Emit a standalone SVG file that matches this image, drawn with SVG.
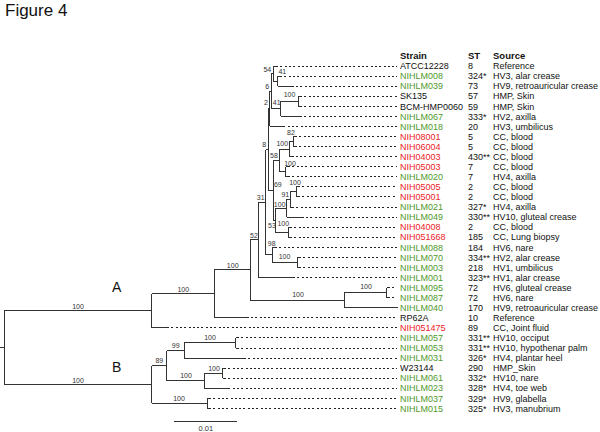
<svg xmlns="http://www.w3.org/2000/svg" width="600" height="432" viewBox="0 0 600 432">
<style>
text{font-family:"Liberation Sans",Arial,sans-serif;fill:#111}
.tx{font-size:9px}
.hd{font-size:9.5px;font-weight:bold}
.bs{font-size:7px;text-anchor:middle;fill:#333}
.cl{font-size:14px;text-anchor:middle}
.g{fill:#4f9a2c}
.r{fill:#ec2227}
.br{fill:none;stroke:#333;stroke-width:1;shape-rendering:crispEdges}
.dt{fill:none;stroke:#222;stroke-width:1;stroke-dasharray:2 2.3;shape-rendering:crispEdges}
</style>
<rect width="600" height="432" fill="#fff"/>
<text x="5" y="15.5" style="font-size:17px">Figure 4</text>
<g id="headers">
<text class="hd" x="400" y="59">Strain</text>
<text class="hd" x="468" y="59">ST</text>
<text class="hd" x="493" y="59">Source</text>
</g>
<g id="connectors">
<path class="br" d="M0,347.7H4.3M4.3,310.85V384.5
M4.3,310.85H151.7M151.7,293.9V327.8
M4.3,384.5H151.7M151.7,365.6V403.35
M151.7,293.9H214M214,269.95V317.8
M214,269.95H250M250,239.85V300.1
M250,239.85H258.3M258.3,202.2V277.5
M258.3,202.2H265.7M265.7,149.55V254.8
M265.7,149.55H268.3M268.3,108.8V190.3
M268.3,108.8H269.8M269.8,91.2V126.4
M269.8,91.2H271.2M271.2,73.55V108.8
M271.2,73.55H273.3M273.3,66V81.1
M273.3,81.1H277.5M277.5,76.1V86.1
M271.2,108.8H280.7M280.7,101.25V116.4
M280.7,101.25H298.3M298.3,96.2V106.3
M268.3,190.3H273.3M273.3,160.4V220.2
M273.3,160.4H279.3M279.3,149.1V171.75
M279.3,149.1H289.3M289.3,141.55V156.6
M289.3,141.55H293.3M293.3,136.5V146.6
M279.3,171.75H285.7M285.7,166.7V176.8
M273.3,220.2H275M275,208.25V232.15
M275,208.25H286.7M286.7,199.4V217.1
M286.7,199.4H290M290,191.85V207
M290,191.85H296M296,186.8V196.9
M275,232.15H288.3M288.3,227.1V237.2
M265.7,254.8H272.3M272.3,247.3V262.35
M272.3,262.35H297.3M297.3,257.3V267.4
M250,300.1H344M344,292.55V307.7
M344,292.55H386.7M386.7,287.5V297.6
M151.7,365.6H166.7M166.7,350.5V380.7
M166.7,350.5H184.3M184.3,342.95V358
M184.3,342.95H235.7M235.7,337.9V348
M166.7,380.7H204M204,373.15V388.2
M204,373.15H222.7M222.7,368.1V378.2
M151.7,403.35H207.3M207.3,398.3V408.4"/>
<path class="br" d="M273.3,66H276M277.5,76.1H280M277.5,86.1H291.7M298.3,96.2H300M298.3,106.3H300M280.7,116.4H300M269.8,126.4H283.3
M293.3,136.5H295M293.3,146.6H295M289.3,156.6H291.5M285.7,166.7H288M285.7,176.8H288M296,186.8H298M296,196.9H298M290,207H292M286.7,217.1H301.7
M288.3,227.1H290M288.3,237.2H290M272.3,247.3H275M297.3,257.3H299M297.3,267.4H299M258.3,277.5H293M386.7,287.5H388M386.7,297.6H388M344,307.7H398
M214,317.8H246.7M151.7,327.8H167M235.7,337.9H237M235.7,348H237M184.3,358H244M222.7,368.1H224M222.7,378.2H224M204,388.2H228.3M207.3,398.3H209M207.3,408.4H209"/>
<path class="dt" d="M276,66H397M280,76.1H397M291.7,86.1H397M300,96.2H397M300,106.3H397M300,116.4H397M283.3,126.4H397
M295,136.5H397M295,146.6H397M291.5,156.6H397M288,166.7H397M288,176.8H397M298,186.8H397M298,196.9H397M292,207H397M301.7,217.1H397
M290,227.1H397M290,237.2H397M275,247.3H397M299,257.3H397M299,267.4H397M293,277.5H397M388,287.5H397M388,297.6H397
M246.7,317.8H397M167,327.8H397M237,337.9H397M237,348H397M244,358H397M224,368.1H397M224,378.2H397M228.3,388.2H397M209,398.3H397M209,408.4H397"/>
<path class="br" d="M174.3,421.7H237.3"/>
</g>
<g id="clade-labels">
<text class="cl" x="116.7" y="292">A</text>
<text class="cl" x="116.7" y="372">B</text>
</g>
<g id="bootstrap">
<text class="bs" x="78" y="308.5">100</text>
<text class="bs" x="78" y="382.5">100</text>
<text class="bs" x="183.3" y="291.5">100</text>
<text class="bs" x="232.7" y="267.5">100</text>
<text class="bs" x="298" y="296.5">100</text>
<text class="bs" x="366" y="289.2">100</text>
<text class="bs" x="254" y="238.2">52</text>
<text class="bs" x="260.7" y="199.8">31</text>
<text class="bs" x="271.7" y="245.8">98</text>
<text class="bs" x="284.5" y="258.5">100</text>
<text class="bs" x="264.3" y="146.8">8</text>
<text class="bs" x="274" y="158">58</text>
<text class="bs" x="282.3" y="146">100</text>
<text class="bs" x="291" y="135.2">82</text>
<text class="bs" x="290" y="165.5">100</text>
<text class="bs" x="277.8" y="187">69</text>
<text class="bs" x="295" y="185">100</text>
<text class="bs" x="285.3" y="197">91</text>
<text class="bs" x="279.7" y="206.5">100</text>
<text class="bs" x="272" y="228">53</text>
<text class="bs" x="283.3" y="225.8">100</text>
<text class="bs" x="267.3" y="71.8">54</text>
<text class="bs" x="282.3" y="74.2">41</text>
<text class="bs" x="267.3" y="89.2">6</text>
<text class="bs" x="266" y="104.8">2</text>
<text class="bs" x="276.7" y="104.8">41</text>
<text class="bs" x="289.5" y="97">100</text>
<text class="bs" x="159.3" y="362.8">89</text>
<text class="bs" x="175.7" y="348.2">99</text>
<text class="bs" x="210" y="340">100</text>
<text class="bs" x="186" y="378">100</text>
<text class="bs" x="214" y="370.8">100</text>
<text class="bs" x="179" y="401">100</text>
</g>
<g id="scale-bar">
<text class="bs" x="205.8" y="430.5" style="font-size:7.5px">0.01</text>
</g>
<g id="tip-ATCC12228"><text class="tx" x="400" y="69.2">ATCC12228</text><text class="tx" x="468" y="69.2">8</text><text class="tx" x="493" y="69.2">Reference</text></g>
<g id="tip-NIHLM008"><text class="tx g" x="400" y="79.3">NIHLM008</text><text class="tx" x="468" y="79.3">324*</text><text class="tx" x="493" y="79.3">HV3, alar crease</text></g>
<g id="tip-NIHLM039"><text class="tx g" x="400" y="89.3">NIHLM039</text><text class="tx" x="468" y="89.3">73</text><text class="tx" x="493" y="89.3">HV9, retroauricular crease</text></g>
<g id="tip-SK135"><text class="tx" x="400" y="99.4">SK135</text><text class="tx" x="468" y="99.4">57</text><text class="tx" x="493" y="99.4">HMP, Skin</text></g>
<g id="tip-BCM-HMP0060"><text class="tx" x="400" y="109.5">BCM-HMP0060</text><text class="tx" x="468" y="109.5">59</text><text class="tx" x="493" y="109.5">HMP, Skin</text></g>
<g id="tip-NIHLM067"><text class="tx g" x="400" y="119.6">NIHLM067</text><text class="tx" x="468" y="119.6">333*</text><text class="tx" x="493" y="119.6">HV2, axilla</text></g>
<g id="tip-NIHLM018"><text class="tx g" x="400" y="129.6">NIHLM018</text><text class="tx" x="468" y="129.6">20</text><text class="tx" x="493" y="129.6">HV3, umbilicus</text></g>
<g id="tip-NIH08001"><text class="tx r" x="400" y="139.7">NIH08001</text><text class="tx" x="468" y="139.7">5</text><text class="tx" x="493" y="139.7">CC, blood</text></g>
<g id="tip-NIH06004"><text class="tx r" x="400" y="149.8">NIH06004</text><text class="tx" x="468" y="149.8">5</text><text class="tx" x="493" y="149.8">CC, blood</text></g>
<g id="tip-NIH04003"><text class="tx r" x="400" y="159.8">NIH04003</text><text class="tx" x="468" y="159.8">430**</text><text class="tx" x="493" y="159.8">CC, blood</text></g>
<g id="tip-NIH05003"><text class="tx r" x="400" y="169.9">NIH05003</text><text class="tx" x="468" y="169.9">7</text><text class="tx" x="493" y="169.9">CC, blood</text></g>
<g id="tip-NIHLM020"><text class="tx g" x="400" y="180">NIHLM020</text><text class="tx" x="468" y="180">7</text><text class="tx" x="493" y="180">HV4, axilla</text></g>
<g id="tip-NIH05005"><text class="tx r" x="400" y="190">NIH05005</text><text class="tx" x="468" y="190">2</text><text class="tx" x="493" y="190">CC, blood</text></g>
<g id="tip-NIH05001"><text class="tx r" x="400" y="200.1">NIH05001</text><text class="tx" x="468" y="200.1">2</text><text class="tx" x="493" y="200.1">CC, blood</text></g>
<g id="tip-NIHLM021"><text class="tx g" x="400" y="210.2">NIHLM021</text><text class="tx" x="468" y="210.2">327*</text><text class="tx" x="493" y="210.2">HV4, axilla</text></g>
<g id="tip-NIHLM049"><text class="tx g" x="400" y="220.3">NIHLM049</text><text class="tx" x="468" y="220.3">330**</text><text class="tx" x="493" y="220.3">HV10, gluteal crease</text></g>
<g id="tip-NIH04008"><text class="tx r" x="400" y="230.3">NIH04008</text><text class="tx" x="468" y="230.3">2</text><text class="tx" x="493" y="230.3">CC, blood</text></g>
<g id="tip-NIH051668"><text class="tx r" x="400" y="240.4">NIH051668</text><text class="tx" x="468" y="240.4">185</text><text class="tx" x="493" y="240.4">CC, Lung biopsy</text></g>
<g id="tip-NIHLM088"><text class="tx g" x="400" y="250.5">NIHLM088</text><text class="tx" x="468" y="250.5">184</text><text class="tx" x="493" y="250.5">HV6, nare</text></g>
<g id="tip-NIHLM070"><text class="tx g" x="400" y="260.5">NIHLM070</text><text class="tx" x="468" y="260.5">334**</text><text class="tx" x="493" y="260.5">HV2, alar crease</text></g>
<g id="tip-NIHLM003"><text class="tx g" x="400" y="270.6">NIHLM003</text><text class="tx" x="468" y="270.6">218</text><text class="tx" x="493" y="270.6">HV1, umbilicus</text></g>
<g id="tip-NIHLM001"><text class="tx g" x="400" y="280.7">NIHLM001</text><text class="tx" x="468" y="280.7">323**</text><text class="tx" x="493" y="280.7">HV1, alar crease</text></g>
<g id="tip-NIHLM095"><text class="tx g" x="400" y="290.7">NIHLM095</text><text class="tx" x="468" y="290.7">72</text><text class="tx" x="493" y="290.7">HV6, gluteal crease</text></g>
<g id="tip-NIHLM087"><text class="tx g" x="400" y="300.8">NIHLM087</text><text class="tx" x="468" y="300.8">72</text><text class="tx" x="493" y="300.8">HV6, nare</text></g>
<g id="tip-NIHLM040"><text class="tx g" x="400" y="310.9">NIHLM040</text><text class="tx" x="468" y="310.9">170</text><text class="tx" x="493" y="310.9">HV9, retroauricular crease</text></g>
<g id="tip-RP62A"><text class="tx" x="400" y="321">RP62A</text><text class="tx" x="468" y="321">10</text><text class="tx" x="493" y="321">Reference</text></g>
<g id="tip-NIH051475"><text class="tx r" x="400" y="331">NIH051475</text><text class="tx" x="468" y="331">89</text><text class="tx" x="493" y="331">CC, Joint fluid</text></g>
<g id="tip-NIHLM057"><text class="tx g" x="400" y="341.1">NIHLM057</text><text class="tx" x="468" y="341.1">331**</text><text class="tx" x="493" y="341.1">HV10, occiput</text></g>
<g id="tip-NIHLM053"><text class="tx g" x="400" y="351.2">NIHLM053</text><text class="tx" x="468" y="351.2">331**</text><text class="tx" x="493" y="351.2">HV10, hypothenar palm</text></g>
<g id="tip-NIHLM031"><text class="tx g" x="400" y="361.2">NIHLM031</text><text class="tx" x="468" y="361.2">326*</text><text class="tx" x="493" y="361.2">HV4, plantar heel</text></g>
<g id="tip-W23144"><text class="tx" x="400" y="371.3">W23144</text><text class="tx" x="468" y="371.3">290</text><text class="tx" x="493" y="371.3">HMP_Skin</text></g>
<g id="tip-NIHLM061"><text class="tx g" x="400" y="381.4">NIHLM061</text><text class="tx" x="468" y="381.4">332*</text><text class="tx" x="493" y="381.4">HV10, nare</text></g>
<g id="tip-NIHLM023"><text class="tx g" x="400" y="391.4">NIHLM023</text><text class="tx" x="468" y="391.4">328*</text><text class="tx" x="493" y="391.4">HV4, toe web</text></g>
<g id="tip-NIHLM037"><text class="tx g" x="400" y="401.5">NIHLM037</text><text class="tx" x="468" y="401.5">329*</text><text class="tx" x="493" y="401.5">HV9, glabella</text></g>
<g id="tip-NIHLM015"><text class="tx g" x="400" y="411.6">NIHLM015</text><text class="tx" x="468" y="411.6">325*</text><text class="tx" x="493" y="411.6">HV3, manubrium</text></g>
</svg>
